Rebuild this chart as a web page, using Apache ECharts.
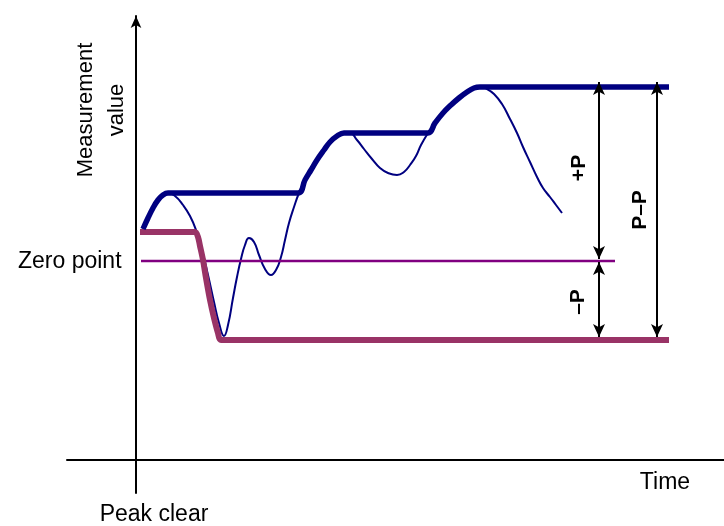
<!DOCTYPE html>
<html>
<head>
<meta charset="utf-8">
<script src="https://cdn.jsdelivr.net/npm/echarts@6/dist/echarts.min.js"></script>
<style>
html,body{margin:0;padding:0;background:#fff;}
#chart{width:724px;height:526px;}
</style>
</head>
<body>
<div id="chart"></div>
<script>
// ---- data (time, value) ----
const peakHoldTime  = [7, 12, 17, 22, 27, 32, 162, 169, 175, 181, 188, 194, 201, 208, 211, 292, 299, 307, 315, 323, 331, 338, 344, 533];
const peakHoldValue = [231, 242, 252, 260, 265, 267, 267, 280, 290, 300, 310, 318, 324, 327, 327, 327, 337, 347, 355, 362, 368, 372, 373, 373];

const signalTime  = [7, 12, 17, 22, 27, 32, 39, 47, 54, 60, 66, 72, 78, 83, 88, 92, 97, 101, 105, 109, 113, 118, 123, 129, 135, 140, 145, 149, 153, 158, 163, 169, 175, 181, 188, 194, 201, 208, 214, 221, 228, 236, 244, 252, 261, 268, 274, 280, 285, 292, 299, 307, 315, 323, 331, 338, 344, 351, 358, 366, 374, 381, 387, 394, 401, 407, 414, 420, 426];
const signalValue = [231, 242, 252, 260, 265, 267, 264, 255, 244, 230, 210, 185, 158, 137, 124, 135, 162, 183, 201, 215, 222, 218, 205, 191, 185, 190, 203, 220, 237, 253, 267, 280, 290, 300, 310, 318, 324, 327, 327, 320, 311, 301, 292, 287, 285, 288, 295, 304, 315, 327, 337, 347, 355, 362, 368, 372, 373, 371, 366, 356, 341, 327, 313, 298, 283, 272, 263, 255, 247];

const minHoldTime  = [4, 59, 62, 64, 67, 70, 74, 78, 82, 85, 533];
const minHoldValue = [228, 228, 223, 214, 200, 182, 160, 142, 127, 120, 120];

const zeroTime  = [5, 479];
const zeroValue = [199, 199];

// annotation levels (arrow tips)
const plusPLevel = 373, zeroLevel = 199, minusPLevel = 120;
const plusPTime = 463, ppTime = 521;
const annotationLabels = ['+P', '–P', 'P–P'];
const axisLabels = ['Measurement\nvalue', 'Zero point', 'Peak clear', 'Time'];

const zip = (a, b) => a.map((v, i) => [v, b[i]]);

const chart = echarts.init(document.getElementById('chart'), null, {renderer: 'canvas'});
const font = '"Liberation Sans", Arial, sans-serif';

chart.setOption({
  animation: false,
  backgroundColor: '#fff',
  grid: {left: 67, right: 0, top: 16, bottom: 33, containLabel: false},
  xAxis: {
    type: 'value', min: -69, max: 588,
    axisLine: {show: true, onZero: true, lineStyle: {color: '#000', width: 2}},
    axisTick: {show: false}, axisLabel: {show: false}, splitLine: {show: false}
  },
  yAxis: {
    type: 'value', min: -33, max: 444,
    axisLine: {show: true, onZero: true, symbol: ['none', 'arrow'], symbolSize: [8, 12],
      lineStyle: {color: '#000', width: 2}},
    axisTick: {show: false}, axisLabel: {show: false}, splitLine: {show: false}
  },
  series: [
    {
      name: 'signal', type: 'line', data: zip(signalTime, signalValue),
      showSymbol: false, symbol: 'none', smooth: 0.5, z: 1,
      lineStyle: {color: '#000080', width: 2}
    },
    {
      name: 'zero', type: 'line', data: zip(zeroTime, zeroValue),
      showSymbol: false, symbol: 'none', z: 2,
      lineStyle: {color: '#800080', width: 2.5},
      markLine: {
        silent: true, symbol: ['arrow', 'arrow'], symbolSize: [9, 13],
        label: {show: false},
        lineStyle: {color: '#000', width: 2, type: 'solid'},
        emphasis: {disabled: true},
        data: [
          [{coord: [plusPTime, plusPLevel + 5]}, {coord: [plusPTime, zeroLevel + 2]}],
          [{coord: [plusPTime, zeroLevel - 1]}, {coord: [plusPTime, minusPLevel + 3]}],
          [{coord: [ppTime, plusPLevel + 5]}, {coord: [ppTime, minusPLevel + 3]}]
        ]
      }
    },
    {
      name: 'minHold', type: 'line', data: zip(minHoldTime, minHoldValue),
      showSymbol: false, symbol: 'none', smooth: 0.3, z: 3,
      lineStyle: {color: '#993366', width: 6}
    },
    {
      name: 'peakHold', type: 'line', data: zip(peakHoldTime, peakHoldValue),
      showSymbol: false, symbol: 'none', smooth: 0.4, z: 4,
      lineStyle: {color: '#000080', width: 5.5}
    }
  ],
  graphic: [
    {type: 'text', x: 101, y: 110, rotation: Math.PI / 2,
      style: {text: axisLabels[0], font: '22px ' + font, fill: '#000', align: 'center', verticalAlign: 'middle', lineHeight: 31}},
    {type: 'text', x: 18, y: 262,
      style: {text: axisLabels[1], font: '23px ' + font, fill: '#000', align: 'left', verticalAlign: 'middle'}},
    {type: 'text', x: 154, y: 515,
      style: {text: axisLabels[2], font: '23px ' + font, fill: '#000', align: 'center', verticalAlign: 'middle'}},
    {type: 'text', x: 665, y: 483,
      style: {text: axisLabels[3], font: '23px ' + font, fill: '#000', align: 'center', verticalAlign: 'middle'}},
    {type: 'text', x: 579, y: 168, rotation: Math.PI / 2,
      style: {text: annotationLabels[0], font: 'bold 21px ' + font, fill: '#000', align: 'center', verticalAlign: 'middle'}},
    {type: 'text', x: 578, y: 302, rotation: Math.PI / 2,
      style: {text: annotationLabels[1], font: 'bold 21px ' + font, fill: '#000', align: 'center', verticalAlign: 'middle'}},
    {type: 'text', x: 640, y: 210, rotation: Math.PI / 2,
      style: {text: annotationLabels[2], font: 'bold 21px ' + font, fill: '#000', align: 'center', verticalAlign: 'middle'}}
  ]
});
</script>
</body>
</html>
